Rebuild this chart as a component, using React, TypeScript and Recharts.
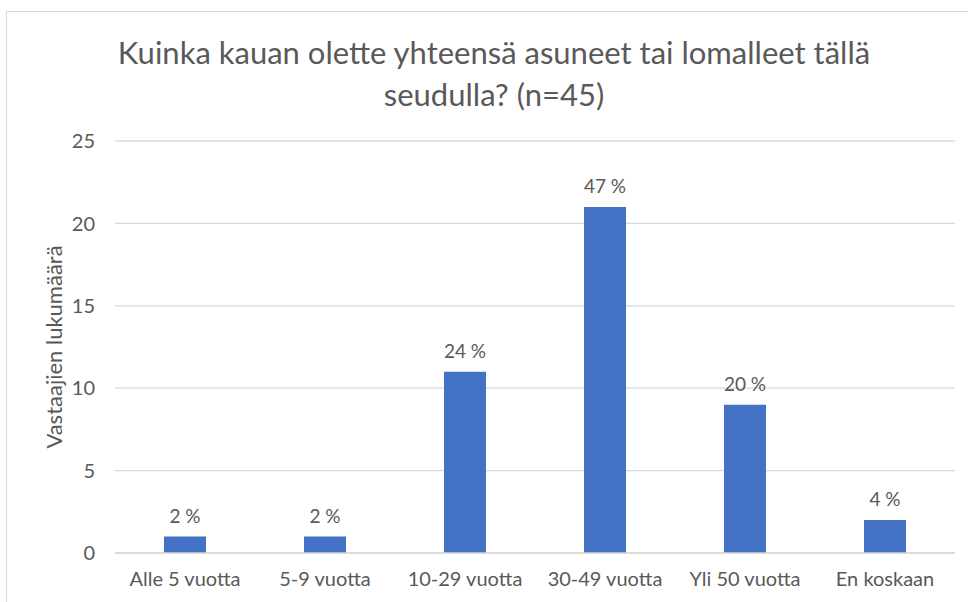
import React from 'react';
import { BarChart, Bar, XAxis, YAxis, CartesianGrid, LabelList } from 'recharts';

const categories = ['Alle 5 vuotta', '5-9 vuotta', '10-29 vuotta', '30-49 vuotta', 'Yli 50 vuotta', 'En koskaan'];
const counts = [1, 1, 11, 21, 9, 2];
const percentLabels = ['2 %', '2 %', '24 %', '47 %', '20 %', '4 %'];
const yTicks = [0, 5, 10, 15, 20, 25];
const titleLines = ['Kuinka kauan olette yhteensä asuneet tai lomalleet tällä', 'seudulla? (n=45)'];
const yAxisTitle = 'Vastaajien lukumäärä';

const data = categories.map((c, i) => ({ name: c, value: counts[i], pct: percentLabels[i] }));

const FONT = 'Lato, "Open Sans", sans-serif';
const TEXT = '#595959';

export default function App() {
  return (
    <div style={{ position: 'fixed', left: 0, top: 0, width: 968, height: 602, overflow: 'hidden', background: '#fff', fontFamily: FONT }}>
      <div style={{ position: 'absolute', left: 6, top: 11, width: 1100, height: 800, border: '1px solid #d9d9d9', boxSizing: 'border-box' }} />
      <div style={{ position: 'absolute', left: 494, top: 31, transform: 'translateX(-50%)', whiteSpace: 'nowrap', textAlign: 'center', color: TEXT, fontSize: 31, lineHeight: '42px' }}>
        {titleLines.map((l, i) => (<div key={i}>{l}</div>))}
      </div>
      <div style={{ position: 'absolute', left: 53, top: 347, transform: 'translate(-50%, -50%) rotate(-90deg)', whiteSpace: 'nowrap', color: TEXT, fontSize: 22 }}>
        {yAxisTitle}
      </div>
      <div style={{ position: 'absolute', left: 0, top: 0 }}>
        <BarChart width={968} height={602} data={data} margin={{ top: 141, right: 13, bottom: 19, left: 55 }} barCategoryGap="35%">
          <CartesianGrid vertical={false} stroke="#d9d9d9" strokeWidth={1.3} />
          <XAxis dataKey="name" axisLine={{ stroke: '#d9d9d9', strokeWidth: 1.3 }} tickLine={false} tickSize={0} tickMargin={19} height={30} interval={0}
            tick={{ fill: TEXT, fontSize: 20, fontFamily: FONT }} />
          <YAxis domain={[0, 25]} ticks={yTicks} axisLine={false} tickLine={false} tickSize={0} tickMargin={20} width={60}
            tick={{ fill: TEXT, fontSize: 20, fontFamily: FONT }} />
          <Bar dataKey="value" fill="#4472C4" isAnimationActive={false}>
            <LabelList dataKey="pct" position="top" offset={14} fill={TEXT} fontSize={19} fontFamily={FONT} />
          </Bar>
        </BarChart>
      </div>
    </div>
  );
}
